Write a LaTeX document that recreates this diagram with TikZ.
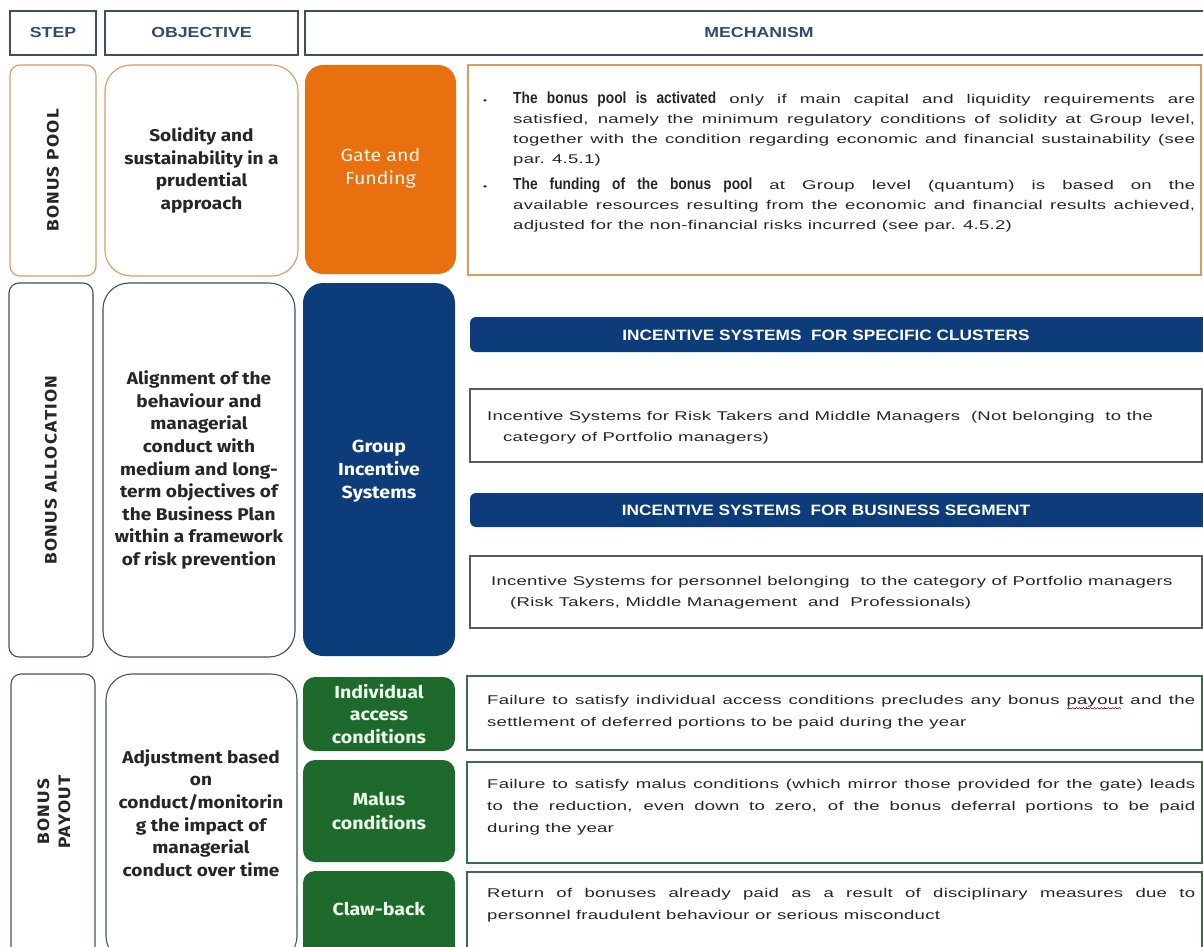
\documentclass[tikz,border=0pt]{standalone}
\usepackage{fontspec}
\usetikzlibrary{fit}
\setmainfont{Liberation Sans}
\newfontfamily\bodyfont[FakeStretch=1.46,LetterSpace=2]{Liberation Sans}
\newfontfamily\headfont[FakeStretch=1.22]{Liberation Sans}
\newfontfamily\banfont[FakeStretch=1.15]{Liberation Sans}
\newfontfamily\leadfont[FakeStretch=0.86]{Liberation Sans}
\newfontfamily\dinfont[FakeStretch=1.12]{Fira Sans}
\newfontfamily\dinwide[FakeStretch=1.15,LetterSpace=8]{Fira Sans}

\definecolor{orangeF}{HTML}{E8700F}
\definecolor{orangeL}{HTML}{DE9A5E}
\definecolor{navy}{HTML}{0D3C7A}
\definecolor{greenF}{HTML}{1E6A2C}
\definecolor{greenL}{HTML}{3A6E4A}
\definecolor{greenE}{HTML}{3F5F48}
\definecolor{slate}{HTML}{3E4F62}
\definecolor{headtxt}{HTML}{2F4C70}
\definecolor{bodytxt}{HTML}{262626}
\definecolor{greytxt}{HTML}{5A5A5A}
\definecolor{spellred}{HTML}{D02020}

\newcommand{\leadsize}{\leadfont\bfseries\fontsize{16}{20}\selectfont}
\newcommand{\dotmark}{\llap{{\fontsize{8}{8}\selectfont\textbullet}\hspace{26pt}}}
% red wavy underline under a word, built from short rules
\newsavebox{\wavebox}
\newcommand{\redwave}[1]{\sbox{\wavebox}{#1}%
  \rlap{\color{spellred}\leaders\hbox{%
    \rule[-4.9pt]{0.9pt}{0.7pt}\rule[-4.3pt]{0.9pt}{0.7pt}%
    \rule[-3.7pt]{0.9pt}{0.7pt}\rule[-4.3pt]{0.9pt}{0.7pt}}\hskip\wd\wavebox}#1}

\begin{document}
\begin{tikzpicture}[x=1pt,y=-1pt,
  frame/.style={inner sep=0pt, outer sep=0pt},
  hdbox/.style={frame, draw=slate, line width=1.6pt, fill=white},
  hdtext/.style={text=headtxt, font=\headfont\bfseries\fontsize{14.5}{16}\selectfont},
  stepbox/.style={frame, draw=#1, line width=1.1pt, fill=white, rounded corners=10pt},
  objbox/.style={frame, draw=#1, line width=1.1pt, fill=white, rounded corners=26pt},
  steplab/.style={rotate=90, align=center, text=bodytxt,
    font=\dinwide\bfseries\fontsize{16.5}{21}\selectfont},
  objtext/.style={align=center, text=bodytxt,
    font=\dinfont\bfseries\fontsize{17}{22.6}\selectfont},
  mechbox/.style={frame, fill=#1, rounded corners=18pt},
  mechtext/.style={align=center, font=\dinfont\fontsize{17.5}{23}\selectfont},
  greentext/.style={align=center, text=green!8,
    font=\dinfont\bfseries\fontsize{17.5}{22.5}\selectfont},
  txtbox/.style={frame, draw=#1, line width=1.2pt, fill=white},
  banner/.style={frame, fill=navy, rounded corners=6pt},
  bantext/.style={text=white, font=\banfont\bfseries\fontsize{15}{17}\selectfont},
  bodytext/.style={anchor=west, text=bodytxt, inner sep=0pt,
    font=\bodyfont\fontsize{12.7}{#1}\selectfont},
  bodytext/.default=21
]
\useasboundingbox (0,0) rectangle (1203,947);
\clip (0,0) rectangle (1203,947);
\fill[white] (0,0) rectangle (1203,947);

% ---------- column headers ----------
\node[hdbox, fit={(10,11) (96,55)}] (hstep) {};
\node[hdtext] (hstept) at (hstep.center) {STEP};
\node[hdbox, fit={(105,11) (298,55)}] (hobj) {};
\node[hdtext] (hobjt) at (hobj.center) {OBJECTIVE};
\node[hdbox, fit={(305,11) (1212,55)}] (hmech) {};
\node[hdtext] (hmecht) at (759,33) {MECHANISM};

% ---------- step 1: bonus pool ----------
\node[stepbox=orangeL, fit={(10,65) (96,276)}] (s1) {};
\node[steplab] (s1t) at (s1.center) {BONUS POOL};
\node[objbox=orangeL, fit={(105,65) (298,276)}] (o1) {};
\node[objtext] (o1t) at (o1.center) {Solidity and\\ sustainability in a\\ prudential\\ approach};
\node[mechbox=orangeF, fit={(305,65) (456,274)}] (g1) {};
\node[mechtext, text=orange!8] (g1t) at (380.5,168) {Gate and\\ Funding};
\node[txtbox=orangeL, line width=1.4pt, fit={(468,65) (1201,275)}] (m1) {};
\node[bodytext=20, text width=682pt, align=justify] (m1t) at (513,162) {%
  \noindent\dotmark{\leadsize The bonus pool is activated} only if main capital and liquidity requirements are\linebreak
  satisfied, namely the minimum regulatory conditions of solidity at Group level,\linebreak
  together with the condition regarding economic and financial sustainability (see\linebreak
  par. 4.5.1)\par\vspace{6pt}
  \noindent\dotmark{\leadsize The funding of the bonus pool} at Group level (quantum) is based on the\linebreak
  available resources resulting from the economic and financial results achieved,\linebreak
  adjusted for the non-financial risks incurred (see par. 4.5.2)\par};

% ---------- step 2: bonus allocation ----------
\node[stepbox=slate, fit={(9,283) (93,657)}] (s2) {};
\node[steplab] (s2t) at (s2.center) {BONUS ALLOCATION};
\node[objbox=slate, fit={(103,283) (295,657)}] (o2) {};
\node[objtext] (o2t) at (o2.center) {Alignment of the\\ behaviour and\\ managerial\\ conduct with\\ medium and long-\\ term objectives of\\ the Business Plan\\ within a framework\\ of risk prevention};
\node[mechbox=navy, rounded corners=20pt, fit={(303,283) (455,656)}] (g2) {};
\node[mechtext, text=white, font=\dinfont\bfseries\fontsize{17.5}{23}\selectfont] (g2t) at (379,471) {Group\\ Incentive\\ Systems};

\node[banner, fit={(470,317) (1216,352)}] (ban1) {};
\node[bantext] (ban1t) at (826,335) {INCENTIVE SYSTEMS \ FOR SPECIFIC CLUSTERS};
\node[txtbox=greytxt, fit={(470,389) (1202,462)}] (b1) {};
\node[bodytext] (b1t) at (487,427) {\begin{tabular}{@{}l@{}}Incentive Systems for Risk Takers and Middle Managers \ (Not belonging \ to the\\ \hspace*{16pt}category of Portfolio managers)\end{tabular}};

\node[banner, fit={(470,493) (1216,527)}] (ban2) {};
\node[bantext] (ban2t) at (826,510) {INCENTIVE SYSTEMS \ FOR BUSINESS SEGMENT};
\node[txtbox=greytxt, fit={(470,556) (1202,628)}] (b2) {};
\node[bodytext] (b2t) at (491,592) {\begin{tabular}{@{}l@{}}Incentive Systems for personnel belonging \ to the category of Portfolio managers\\ \hspace*{19pt}(Risk Takers, Middle Management \ and \ Professionals)\end{tabular}};

% ---------- step 3: bonus payout ----------
\node[stepbox=greenE, fit={(11,674) (95,962)}] (s3) {};
\node[steplab] (s3t) at (54,812) {BONUS\\ PAYOUT};
\node[objbox=greenE, fit={(106,674) (297,962)}] (o3) {};
\node[objtext] (o3t) at (201,813) {Adjustment based\\ on\\ conduct/monitorin\\ g the impact of\\ managerial\\ conduct over time};

\node[mechbox=greenF, rounded corners=12pt, fit={(303,677) (455,751)}] (c1) {};
\node[greentext] (c1t) at (c1.center) {Individual\\ access\\ conditions};
\node[mechbox=greenF, rounded corners=12pt, fit={(303,760) (455,862)}] (c2) {};
\node[greentext, font=\dinfont\bfseries\fontsize{17.5}{23.5}\selectfont] (c2t) at (c2.center) {Malus\\ conditions};
\node[mechbox=greenF, rounded corners=12pt, fit={(303,871) (455,962)}] (c3) {};
\node[greentext] (c3t) at (379,909) {Claw-back};

\node[txtbox=greenL, fit={(467,676) (1202,750)}] (t1) {};
\node[bodytext=22, text width=708pt, align=justify] (t1t) at (487,712) {Failure to satisfy individual access conditions precludes any bonus \redwave{payout} and the\linebreak settlement of deferred portions to be paid during the year};
\node[txtbox=greenL, fit={(467,762) (1202,863)}] (t2) {};
\node[bodytext=22, text width=708pt, align=justify] (t2t) at (487,807) {Failure to satisfy malus conditions (which mirror those provided for the gate) leads\linebreak to the reduction, even down to zero, of the bonus deferral portions to be paid\linebreak during the year};
\node[txtbox=greenL, fit={(467,872) (1202,962)}] (t3) {};
\node[bodytext=22, text width=708pt, align=justify] (t3t) at (487,905) {Return of bonuses already paid as a result of disciplinary measures due to\linebreak personnel fraudulent behaviour or serious misconduct};
\end{tikzpicture}
\end{document}
